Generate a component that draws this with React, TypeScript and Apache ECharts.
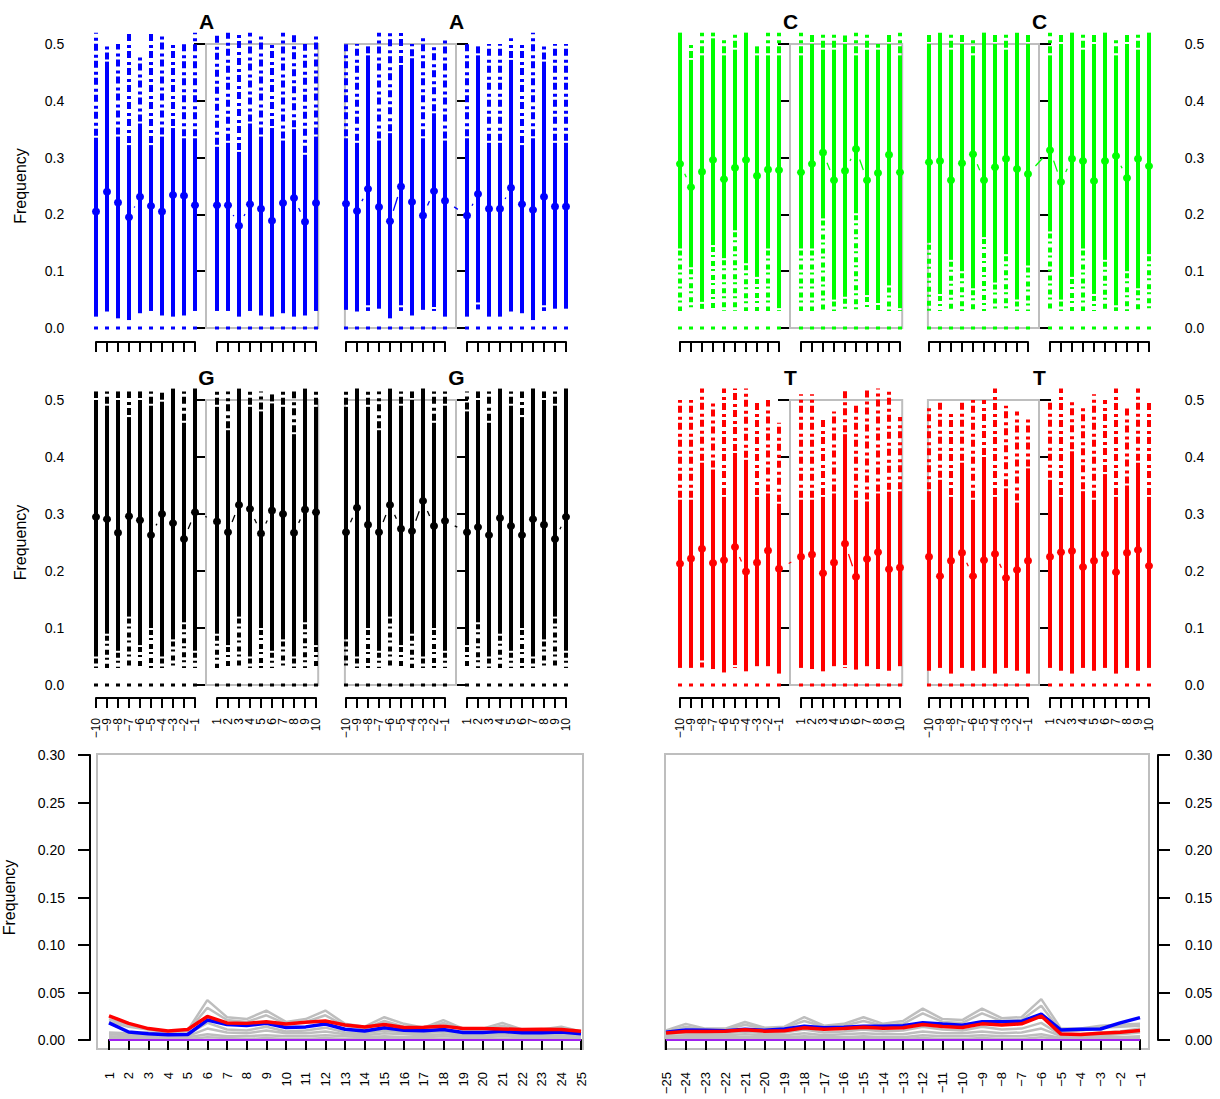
import React, { useEffect, useRef } from "react";
import * as echarts from "echarts";

const FONT = "Liberation Sans, Arial, Helvetica, sans-serif";

// positions of the top panels (0 is skipped)
const POSITIONS = [-10, -9, -8, -7, -6, -5, -4, -3, -2, -1, 1, 2, 3, 4, 5, 6, 7, 8, 9, 10];
const AXIS_SEGMENTS = [[-10, -1], [1, 10]];
const Y_TICKS_TOP = [0, 0.5, 0.1];
const LOW_DASH = 0.03;

// ---- A (blue) ----
const A_L_MEAN = [0.205, 0.240, 0.221, 0.195, 0.231, 0.215, 0.205, 0.234, 0.233, 0.216, 0.216, 0.216, 0.180, 0.218, 0.210, 0.189, 0.220, 0.229, 0.187, 0.220];
const A_L_LO = [0.02, 0.029, 0.017, 0.014, 0.026, 0.03, 0.022, 0.02, 0.022, 0.03, 0.03, 0.03, 0.02, 0.03, 0.022, 0.02, 0.026, 0.02, 0.022, 0.03];
const A_L_HI = [0.335, 0.469, 0.337, 0.322, 0.36, 0.322, 0.337, 0.352, 0.334, 0.334, 0.319, 0.326, 0.31, 0.36, 0.337, 0.352, 0.33, 0.35, 0.305, 0.337];
const A_L_MAX = [0.52, 0.5, 0.5, 0.52, 0.48, 0.52, 0.52, 0.5, 0.5, 0.52, 0.52, 0.52, 0.52, 0.52, 0.52, 0.5, 0.52, 0.52, 0.5, 0.52];

const A_R_MEAN = [0.219, 0.206, 0.245, 0.213, 0.188, 0.249, 0.222, 0.198, 0.241, 0.224, 0.198, 0.236, 0.21, 0.21, 0.247, 0.218, 0.208, 0.231, 0.214, 0.214];
const A_R_LO = [0.032, 0.029, 0.04, 0.034, 0.017, 0.04, 0.022, 0.032, 0.037, 0.02, 0.02, 0.045, 0.02, 0.02, 0.029, 0.026, 0.014, 0.04, 0.034, 0.034];
const A_R_HI = [0.334, 0.326, 0.48, 0.33, 0.343, 0.463, 0.475, 0.334, 0.378, 0.33, 0.334, 0.48, 0.326, 0.326, 0.472, 0.322, 0.334, 0.469, 0.326, 0.326];
const A_R_MAX = [0.5, 0.5, 0.5, 0.52, 0.52, 0.52, 0.5, 0.51, 0.5, 0.51, 0.5, 0.5, 0.5, 0.5, 0.51, 0.5, 0.52, 0.5, 0.5, 0.5];

// ---- C (green) ----
const C_L_MEAN = [0.289, 0.248, 0.275, 0.296, 0.262, 0.282, 0.296, 0.268, 0.279, 0.278, 0.274, 0.289, 0.309, 0.26, 0.277, 0.315, 0.26, 0.273, 0.305, 0.274];
const C_L_LO = [0.14, 0.107, 0.046, 0.146, 0.123, 0.172, 0.114, 0.09, 0.14, 0.035, 0.14, 0.14, 0.193, 0.05, 0.055, 0.202, 0.058, 0.044, 0.075, 0.035];
const C_L_HI = [0.52, 0.472, 0.48, 0.51, 0.48, 0.49, 0.52, 0.48, 0.48, 0.48, 0.48, 0.5, 0.49, 0.49, 0.5, 0.48, 0.49, 0.49, 0.5, 0.48];
const C_L_MAX = [0.52, 0.5, 0.52, 0.52, 0.51, 0.52, 0.52, 0.5, 0.52, 0.52, 0.52, 0.52, 0.52, 0.52, 0.515, 0.52, 0.52, 0.5, 0.52, 0.52];

const C_R_MEAN = [0.292, 0.294, 0.26, 0.29, 0.306, 0.26, 0.283, 0.298, 0.28, 0.271, 0.313, 0.257, 0.298, 0.294, 0.259, 0.294, 0.303, 0.264, 0.298, 0.285];
const C_R_LO = [0.15, 0.06, 0.12, 0.1, 0.07, 0.16, 0.08, 0.13, 0.05, 0.11, 0.17, 0.05, 0.09, 0.14, 0.06, 0.12, 0.04, 0.1, 0.07, 0.13];
const C_R_HI = [0.5, 0.52, 0.49, 0.5, 0.48, 0.52, 0.5, 0.49, 0.52, 0.5, 0.48, 0.5, 0.52, 0.49, 0.5, 0.52, 0.48, 0.5, 0.49, 0.52];
const C_R_MAX = [0.52, 0.52, 0.52, 0.52, 0.51, 0.52, 0.52, 0.52, 0.52, 0.52, 0.52, 0.52, 0.52, 0.52, 0.52, 0.52, 0.51, 0.52, 0.52, 0.52];

// ---- G (black) ----
const G_L_MEAN = [0.295, 0.291, 0.267, 0.296, 0.289, 0.263, 0.3, 0.284, 0.256, 0.303, 0.287, 0.268, 0.316, 0.309, 0.266, 0.306, 0.3, 0.267, 0.308, 0.303];
const G_L_LO = [0.05, 0.09, 0.06, 0.12, 0.07, 0.1, 0.05, 0.08, 0.11, 0.06, 0.09, 0.07, 0.12, 0.05, 0.1, 0.06, 0.08, 0.05, 0.11, 0.07];
const G_L_HI = [0.5, 0.49, 0.5, 0.47, 0.5, 0.49, 0.497, 0.52, 0.46, 0.52, 0.488, 0.447, 0.52, 0.488, 0.48, 0.494, 0.488, 0.44, 0.52, 0.488];
const G_L_MAX = [0.515, 0.515, 0.515, 0.515, 0.515, 0.515, 0.515, 0.52, 0.515, 0.52, 0.515, 0.515, 0.52, 0.515, 0.515, 0.515, 0.515, 0.515, 0.52, 0.515];

const G_R_MEAN = [0.268, 0.311, 0.281, 0.268, 0.316, 0.274, 0.27, 0.323, 0.279, 0.288, 0.268, 0.277, 0.263, 0.293, 0.279, 0.263, 0.291, 0.281, 0.256, 0.295];
const G_R_LO = [0.08, 0.05, 0.1, 0.06, 0.12, 0.07, 0.09, 0.05, 0.1, 0.06, 0.07, 0.11, 0.05, 0.09, 0.06, 0.1, 0.05, 0.08, 0.12, 0.06];
const G_R_HI = [0.488, 0.52, 0.488, 0.447, 0.52, 0.49, 0.5, 0.52, 0.46, 0.49, 0.48, 0.5, 0.46, 0.52, 0.49, 0.47, 0.52, 0.5, 0.49, 0.52];
const G_R_MAX = [0.515, 0.52, 0.515, 0.515, 0.52, 0.515, 0.515, 0.52, 0.515, 0.515, 0.515, 0.515, 0.515, 0.52, 0.515, 0.515, 0.52, 0.515, 0.515, 0.52];

// ---- T (red) ----
const T_L_MEAN = [0.213, 0.222, 0.239, 0.214, 0.219, 0.242, 0.199, 0.215, 0.236, 0.204, 0.225, 0.229, 0.196, 0.215, 0.248, 0.19, 0.221, 0.233, 0.203, 0.206];
const T_L_LO = [0.03, 0.03, 0.043, 0.028, 0.022, 0.035, 0.024, 0.033, 0.033, 0.02, 0.03, 0.028, 0.024, 0.033, 0.035, 0.027, 0.033, 0.028, 0.025, 0.033];
const T_L_HI = [0.325, 0.325, 0.39, 0.378, 0.33, 0.407, 0.395, 0.33, 0.336, 0.318, 0.325, 0.325, 0.33, 0.336, 0.44, 0.325, 0.322, 0.336, 0.339, 0.34];
const T_L_MAX = [0.5, 0.5, 0.52, 0.5, 0.52, 0.52, 0.52, 0.5, 0.5, 0.46, 0.51, 0.51, 0.47, 0.48, 0.52, 0.49, 0.52, 0.52, 0.52, 0.47];

const T_R_MEAN = [0.225, 0.191, 0.218, 0.232, 0.191, 0.219, 0.23, 0.188, 0.202, 0.218, 0.225, 0.233, 0.235, 0.207, 0.218, 0.23, 0.198, 0.232, 0.237, 0.209];
const T_R_LO = [0.025, 0.03, 0.02, 0.03, 0.025, 0.03, 0.02, 0.03, 0.025, 0.02, 0.03, 0.025, 0.02, 0.03, 0.025, 0.03, 0.02, 0.03, 0.025, 0.03];
const T_R_HI = [0.34, 0.36, 0.33, 0.39, 0.325, 0.4, 0.33, 0.345, 0.32, 0.38, 0.36, 0.33, 0.41, 0.34, 0.325, 0.37, 0.33, 0.35, 0.39, 0.33];
const T_R_MAX = [0.49, 0.5, 0.48, 0.5, 0.5, 0.5, 0.52, 0.49, 0.48, 0.47, 0.5, 0.52, 0.5, 0.49, 0.51, 0.5, 0.52, 0.49, 0.52, 0.5];

// highlighted region boxes [x0, x1, y0, y1]
const BOX_LEFT = [0, 10.2, 0, 0.5];
const BOX_RIGHT = [-10.1, 0, 0, 0.5];

// ---- bottom panels ----
const X_DOWN = [1, 2, 3, 4, 5, 6, 7, 8, 9, 10, 11, 12, 13, 14, 15, 16, 17, 18, 19, 20, 21, 22, 23, 24, 25];
const X_UP = [-25, -24, -23, -22, -21, -20, -19, -18, -17, -16, -15, -14, -13, -12, -11, -10, -9, -8, -7, -6, -5, -4, -3, -2, -1];
const Y_TICKS_BOTTOM = [0, 0.3, 0.05];

const DOWN_RED = [0.0255, 0.0175, 0.012, 0.0095, 0.011, 0.0248, 0.018, 0.0175, 0.0193, 0.0168, 0.0186, 0.02, 0.0157, 0.0138, 0.0164, 0.0131, 0.0135, 0.0146, 0.012, 0.012, 0.0117, 0.011, 0.0113, 0.011, 0.0091];
const DOWN_BLUE = [0.018, 0.0084, 0.0066, 0.0055, 0.0058, 0.021, 0.0164, 0.0153, 0.0175, 0.0131, 0.0138, 0.0168, 0.0113, 0.0095, 0.0128, 0.0102, 0.0098, 0.011, 0.008, 0.008, 0.0091, 0.0077, 0.0077, 0.0084, 0.0066];
const DOWN_GRAY_1 = [0.022, 0.015, 0.012, 0.009, 0.01, 0.042, 0.024, 0.022, 0.031, 0.019, 0.022, 0.031, 0.017, 0.014, 0.024, 0.017, 0.013, 0.021, 0.012, 0.012, 0.018, 0.011, 0.011, 0.014, 0.009];
const DOWN_GRAY_2 = [0.019, 0.014, 0.011, 0.008, 0.009, 0.034, 0.021, 0.019, 0.026, 0.017, 0.019, 0.026, 0.015, 0.012, 0.02, 0.014, 0.012, 0.018, 0.011, 0.011, 0.015, 0.01, 0.01, 0.012, 0.008];
const DOWN_GRAY_3 = [0.008, 0.007, 0.008, 0.006, 0.006, 0.018, 0.011, 0.01, 0.014, 0.009, 0.01, 0.013, 0.008, 0.007, 0.01, 0.008, 0.007, 0.009, 0.006, 0.006, 0.008, 0.006, 0.006, 0.007, 0.005];
const DOWN_GRAY_4 = [0.006, 0.005, 0.005, 0.004, 0.004, 0.012, 0.008, 0.007, 0.01, 0.007, 0.007, 0.009, 0.006, 0.005, 0.007, 0.006, 0.005, 0.006, 0.005, 0.005, 0.006, 0.005, 0.005, 0.005, 0.004];
const DOWN_GRAY_5 = [0.004, 0.003, 0.003, 0.003, 0.003, 0.006, 0.004, 0.004, 0.005, 0.004, 0.004, 0.005, 0.004, 0.003, 0.004, 0.003, 0.003, 0.004, 0.003, 0.003, 0.004, 0.003, 0.003, 0.003, 0.003];
const DOWN_GRAY_6 = [0.002, 0.001, 0.001, 0.001, 0.001, 0.003, 0.002, 0.001, 0.002, 0.001, 0.001, 0.002, 0.001, 0.001, 0.002, 0.001, 0.001, 0.001, 0.001, 0.001, 0.001, 0.001, 0.001, 0.001, 0.001];
const DOWN_ZERO = [0, 0, 0, 0, 0, 0, 0, 0, 0, 0, 0, 0, 0, 0, 0, 0, 0, 0, 0, 0, 0, 0, 0, 0, 0];

const UP_RED = [0.0074, 0.0089, 0.0089, 0.0093, 0.0108, 0.0093, 0.0097, 0.0128, 0.0112, 0.012, 0.0135, 0.0124, 0.0128, 0.0163, 0.0143, 0.0132, 0.017, 0.0159, 0.017, 0.0252, 0.0062, 0.0058, 0.007, 0.0081, 0.01];
const UP_BLUE = [0.0081, 0.0105, 0.0102, 0.0098, 0.0112, 0.0102, 0.0115, 0.0145, 0.0128, 0.0135, 0.0145, 0.0145, 0.015, 0.0182, 0.0168, 0.0155, 0.0193, 0.0193, 0.0196, 0.0272, 0.0105, 0.0112, 0.0116, 0.018, 0.0235];
const UP_GRAY_1 = [0.01, 0.017, 0.012, 0.012, 0.019, 0.013, 0.014, 0.024, 0.015, 0.017, 0.024, 0.017, 0.02, 0.033, 0.022, 0.021, 0.033, 0.023, 0.024, 0.043, 0.012, 0.012, 0.015, 0.016, 0.017];
const UP_GRAY_2 = [0.009, 0.014, 0.011, 0.011, 0.016, 0.012, 0.013, 0.02, 0.014, 0.015, 0.02, 0.015, 0.017, 0.028, 0.019, 0.018, 0.028, 0.02, 0.021, 0.036, 0.009, 0.01, 0.013, 0.014, 0.015];
const UP_GRAY_3 = [0.006, 0.008, 0.007, 0.007, 0.009, 0.007, 0.008, 0.011, 0.008, 0.009, 0.011, 0.009, 0.01, 0.014, 0.011, 0.01, 0.014, 0.011, 0.012, 0.018, 0.005, 0.006, 0.008, 0.009, 0.012];
const UP_GRAY_4 = [0.004, 0.005, 0.005, 0.005, 0.006, 0.005, 0.005, 0.007, 0.005, 0.006, 0.007, 0.006, 0.006, 0.009, 0.007, 0.007, 0.009, 0.007, 0.008, 0.012, 0.004, 0.004, 0.005, 0.006, 0.008];
const UP_GRAY_5 = [0.002, 0.003, 0.003, 0.003, 0.003, 0.003, 0.003, 0.004, 0.003, 0.003, 0.004, 0.003, 0.003, 0.005, 0.004, 0.004, 0.005, 0.004, 0.004, 0.006, 0.002, 0.002, 0.003, 0.003, 0.004];
const UP_GRAY_6 = [0.001, 0.001, 0.001, 0.001, 0.001, 0.001, 0.001, 0.002, 0.001, 0.001, 0.002, 0.001, 0.001, 0.002, 0.001, 0.001, 0.002, 0.001, 0.001, 0.003, 0.001, 0.001, 0.001, 0.001, 0.002];
const UP_ZERO = [0, 0, 0, 0, 0, 0, 0, 0, 0, 0, 0, 0, 0, 0, 0, 0, 0, 0, 0, 0, 0, 0, 0, 0, 0];

// ---- layout ----
const UNIT = 11;
const SUB_X0 = [96, 346, 680, 929]; // pixel of position -10 for each sub-panel column
const ROW_TOP = [44, 400];
const ROW_H = [284, 285];
const ROW_AXIS_Y = [342, 698];
const TITLE_Y = [21, 377];

type Panel = { letter: string; color: string; row: number; sub: number; mean: number[]; lo: number[]; hi: number[]; max: number[]; box: number[] };

const PANELS: Panel[] = [
  { letter: "A", color: "#0000FF", row: 0, sub: 0, mean: A_L_MEAN, lo: A_L_LO, hi: A_L_HI, max: A_L_MAX, box: BOX_LEFT },
  { letter: "A", color: "#0000FF", row: 0, sub: 1, mean: A_R_MEAN, lo: A_R_LO, hi: A_R_HI, max: A_R_MAX, box: BOX_RIGHT },
  { letter: "C", color: "#00FF00", row: 0, sub: 2, mean: C_L_MEAN, lo: C_L_LO, hi: C_L_HI, max: C_L_MAX, box: BOX_LEFT },
  { letter: "C", color: "#00FF00", row: 0, sub: 3, mean: C_R_MEAN, lo: C_R_LO, hi: C_R_HI, max: C_R_MAX, box: BOX_RIGHT },
  { letter: "G", color: "#000000", row: 1, sub: 0, mean: G_L_MEAN, lo: G_L_LO, hi: G_L_HI, max: G_L_MAX, box: BOX_LEFT },
  { letter: "G", color: "#000000", row: 1, sub: 1, mean: G_R_MEAN, lo: G_R_LO, hi: G_R_HI, max: G_R_MAX, box: BOX_RIGHT },
  { letter: "T", color: "#FF0000", row: 1, sub: 2, mean: T_L_MEAN, lo: T_L_LO, hi: T_L_HI, max: T_L_MAX, box: BOX_LEFT },
  { letter: "T", color: "#FF0000", row: 1, sub: 3, mean: T_R_MEAN, lo: T_R_LO, hi: T_R_HI, max: T_R_MAX, box: BOX_RIGHT },
];

const fmtSigned = (v: number | string) => {
  const n = Number(v);
  return n < 0 ? "\u2212" + Math.abs(n) : String(n);
};

const axisLineStyle = { show: true, lineStyle: { color: "#000", width: 2 } };

function buildOption() {
  const grids: any[] = [];
  const xAxes: any[] = [];
  const yAxes: any[] = [];
  const series: any[] = [];
  const graphics: any[] = [];

  const addGrid = (g: any, x: any, y: any) => {
    grids.push({ containLabel: false, ...g });
    const i = grids.length - 1;
    xAxes.push({ ...x, gridIndex: i });
    yAxes.push({ ...y, gridIndex: i });
    return i;
  };

  PANELS.forEach((p) => {
    const x0 = SUB_X0[p.sub];
    const isLeftAxis = p.sub % 2 === 0;
    const showLabels = p.sub === 0 || p.sub === 3;
    const gi = addGrid(
      { left: x0 - 0.8 * UNIT, top: ROW_TOP[p.row], width: 21.6 * UNIT, height: ROW_H[p.row] },
      { type: "value", min: -10.8, max: 10.8, show: false },
      {
        type: "value",
        min: Y_TICKS_TOP[0],
        max: Y_TICKS_TOP[1],
        interval: Y_TICKS_TOP[2],
        position: isLeftAxis ? "left" : "right",
        axisLine: axisLineStyle,
        axisTick: { show: true, length: 12, inside: false, lineStyle: { color: "#000", width: 2 } },
        axisLabel: {
          show: showLabels,
          formatter: (v: number) => v.toFixed(1),
          color: "#000",
          fontSize: 14,
          fontFamily: FONT,
          margin: isLeftAxis ? 23 : 27,
          showMinLabel: true,
          showMaxLabel: true,
        },
        splitLine: { show: false },
        name: p.sub === 0 ? "Frequency" : "",
        nameLocation: "middle",
        nameRotate: 90,
        nameGap: 59,
        nameTextStyle: { fontSize: 16, fontFamily: FONT, color: "#000" },
      }
    );

    const rows = POSITIONS.map((x, i) => [x, p.mean[i], p.lo[i], p.hi[i], p.max[i]]);
    const color = p.color;

    // highlight box
    series.push({
      type: "custom",
      xAxisIndex: gi,
      yAxisIndex: gi,
      clip: false,
      silent: true,
      z: 1,
      data: [p.box],
      renderItem: (params: any, api: any) => {
        const a = api.coord([api.value(0), api.value(3)]);
        const b = api.coord([api.value(1), api.value(2)]);
        return {
          type: "rect",
          shape: { x: a[0], y: a[1], width: b[0] - a[0], height: b[1] - a[1] },
          style: { fill: "none", stroke: "#BEBEBE", lineWidth: 2 },
        };
      },
    });

    // distribution bars + mean points
    series.push({
      type: "custom",
      xAxisIndex: gi,
      yAxisIndex: gi,
      clip: false,
      silent: true,
      z: 2,
      data: rows,
      encode: { x: 0, y: 1 },
      renderItem: (params: any, api: any) => {
        const i = params.dataIndex;
        const x = api.value(0);
        const m = api.value(1);
        const lo = api.value(2);
        const hi = api.value(3);
        const mx = api.value(4);
        const pm = api.coord([x, m]);
        const pl = api.coord([x, lo]);
        const ph = api.coord([x, hi]);
        const px = api.coord([x, mx]);
        const p0 = api.coord([x, 0]);
        const pd = api.coord([x, LOW_DASH]);
        const cx = pm[0];
        const children: any[] = [];
        children.push({ type: "rect", shape: { x: cx - 2, y: ph[1], width: 4, height: pl[1] - ph[1] }, style: { fill: color } });
        if (mx > hi + 0.004) {
          children.push({ type: "line", shape: { x1: cx, y1: ph[1] - 2, x2: cx, y2: px[1] }, style: { stroke: color, lineWidth: 4, lineDash: [7, 3, 3, 4] } });
        }
        if (lo > LOW_DASH + 0.005) {
          children.push({ type: "line", shape: { x1: cx, y1: pl[1] + 2, x2: cx, y2: pd[1] }, style: { stroke: color, lineWidth: 4, lineDash: [5, 3, 2, 4] } });
        }
        children.push({ type: "rect", shape: { x: cx - 2, y: p0[1] - 1.5, width: 4, height: 3 }, style: { fill: color } });
        const nxt = rows[i + 1];
        if (nxt) {
          const q = api.coord([nxt[0], nxt[1]]);
          const dx = q[0] - pm[0];
          const dy = q[1] - pm[1];
          const L = Math.hypot(dx, dy);
          const g = 11;
          if (L > 2 * g + 1) {
            children.push({
              type: "line",
              shape: { x1: pm[0] + (dx * g) / L, y1: pm[1] + (dy * g) / L, x2: q[0] - (dx * g) / L, y2: q[1] - (dy * g) / L },
              style: { stroke: color, lineWidth: 1.3 },
            });
          }
        }
        children.push({ type: "circle", shape: { cx, cy: pm[1], r: 4 }, style: { fill: color } });
        return { type: "group", children };
      },
    });

    // x axis segments (ticks) under the panel, as category axes so every label shows
    AXIS_SEGMENTS.forEach(([mn, mxv]) => {
      const cats = POSITIONS.filter((v) => v >= mn && v <= mxv);
      const left = x0 + (POSITIONS.indexOf(mn) + (mn > 0 ? 1 : 0)) * UNIT;
      addGrid(
        { left, top: ROW_AXIS_Y[p.row] - 1, width: (cats.length - 1) * UNIT, height: 1 },
        {
          type: "category",
          data: cats.map(String),
          boundaryGap: false,
          position: "bottom",
          axisLine: axisLineStyle,
          axisTick: { show: true, length: 10, inside: false, interval: 0, lineStyle: { color: "#000", width: 2 } },
          axisLabel: {
            show: p.row === 1,
            interval: 0,
            rotate: 90,
            formatter: fmtSigned,
            color: "#000",
            fontSize: 12,
            fontFamily: FONT,
            margin: 20,
            hideOverlap: false,
          },
          splitLine: { show: false },
        },
        { type: "value", show: false }
      );
    });

    graphics.push({
      type: "text",
      x: x0 + 10 * UNIT + 0.5,
      y: TITLE_Y[p.row],
      style: { text: p.letter, font: "bold 21px " + FONT, fill: "#000", textAlign: "center", textVerticalAlign: "middle" },
    });
  });

  // bottom panels
  const bottomPanels = [
    {
      x: X_DOWN, left: 107, boxLeft: 97, boxWidth: 486, yPos: "left", yOffset: 19, name: "Frequency", margin: 25,
      grays: [DOWN_GRAY_6, DOWN_GRAY_5, DOWN_GRAY_4, DOWN_GRAY_3, DOWN_GRAY_2, DOWN_GRAY_1], zero: DOWN_ZERO, blue: DOWN_BLUE, red: DOWN_RED,
    },
    {
      x: X_UP, left: 666, boxLeft: 665, boxWidth: 484, yPos: "right", yOffset: 18, name: "", margin: 27,
      grays: [UP_GRAY_6, UP_GRAY_5, UP_GRAY_4, UP_GRAY_3, UP_GRAY_2, UP_GRAY_1], zero: UP_ZERO, blue: UP_BLUE, red: UP_RED,
    },
  ];

  bottomPanels.forEach((b) => {
    addGrid(
      { left: b.boxLeft, top: 754, width: b.boxWidth, height: 295, show: true, borderColor: "#BEBEBE", borderWidth: 2, backgroundColor: "transparent" },
      { type: "value", show: false, min: 0, max: 1 },
      { type: "value", show: false, min: 0, max: 1 }
    );
    const gi = addGrid(
      { left: b.left, top: 755, width: 474, height: 285 },
      {
        type: "value",
        min: b.x[0],
        max: b.x[b.x.length - 1],
        interval: 1,
        position: "bottom",
        offset: 12,
        axisLine: axisLineStyle,
        axisTick: { show: true, length: 10, lineStyle: { color: "#000", width: 2 } },
        axisLabel: { rotate: 90, formatter: fmtSigned, color: "#000", fontSize: 13, fontFamily: FONT, margin: 20, showMinLabel: true, showMaxLabel: true, hideOverlap: false },
        splitLine: { show: false },
      },
      {
        type: "value",
        min: Y_TICKS_BOTTOM[0],
        max: Y_TICKS_BOTTOM[1],
        interval: Y_TICKS_BOTTOM[2],
        position: b.yPos,
        offset: b.yOffset,
        axisLine: axisLineStyle,
        axisTick: { show: true, length: 12, lineStyle: { color: "#000", width: 2 } },
        axisLabel: { formatter: (v: number) => v.toFixed(2), color: "#000", fontSize: 14, fontFamily: FONT, margin: b.margin, showMinLabel: true, showMaxLabel: true },
        splitLine: { show: false },
        name: b.name,
        nameLocation: "middle",
        nameRotate: 90,
        nameGap: 73,
        nameTextStyle: { fontSize: 16, fontFamily: FONT, color: "#000" },
      }
    );
    const mk = (vals: number[], color: string, width: number, z: number) => ({
      type: "line",
      xAxisIndex: gi,
      yAxisIndex: gi,
      symbol: "none",
      silent: true,
      z,
      data: b.x.map((x, i) => [x, vals[i]]),
      lineStyle: { color, width },
    });
    b.grays.forEach((g) => series.push(mk(g, "#BEBEBE", 2.5, 2)));
    series.push(mk(b.zero, "#A020F0", 2, 3));
    series.push(mk(b.blue, "#0000FF", 3.5, 4));
    series.push(mk(b.red, "#FF0000", 3.5, 5));
  });

  return {
    animation: false,
    backgroundColor: "#fff",
    textStyle: { fontFamily: FONT },
    grid: grids,
    xAxis: xAxes,
    yAxis: yAxes,
    series,
    graphic: graphics,
  };
}

export default function App() {
  const ref = useRef<HTMLDivElement>(null);
  useEffect(() => {
    if (!ref.current) return;
    const chart = echarts.init(ref.current, undefined, { renderer: "svg" });
    chart.setOption(buildOption() as any);
    return () => chart.dispose();
  }, []);
  return <div ref={ref} style={{ position: "fixed", left: 0, top: 0, width: 1220, height: 1099, background: "#fff" }} />;
}
